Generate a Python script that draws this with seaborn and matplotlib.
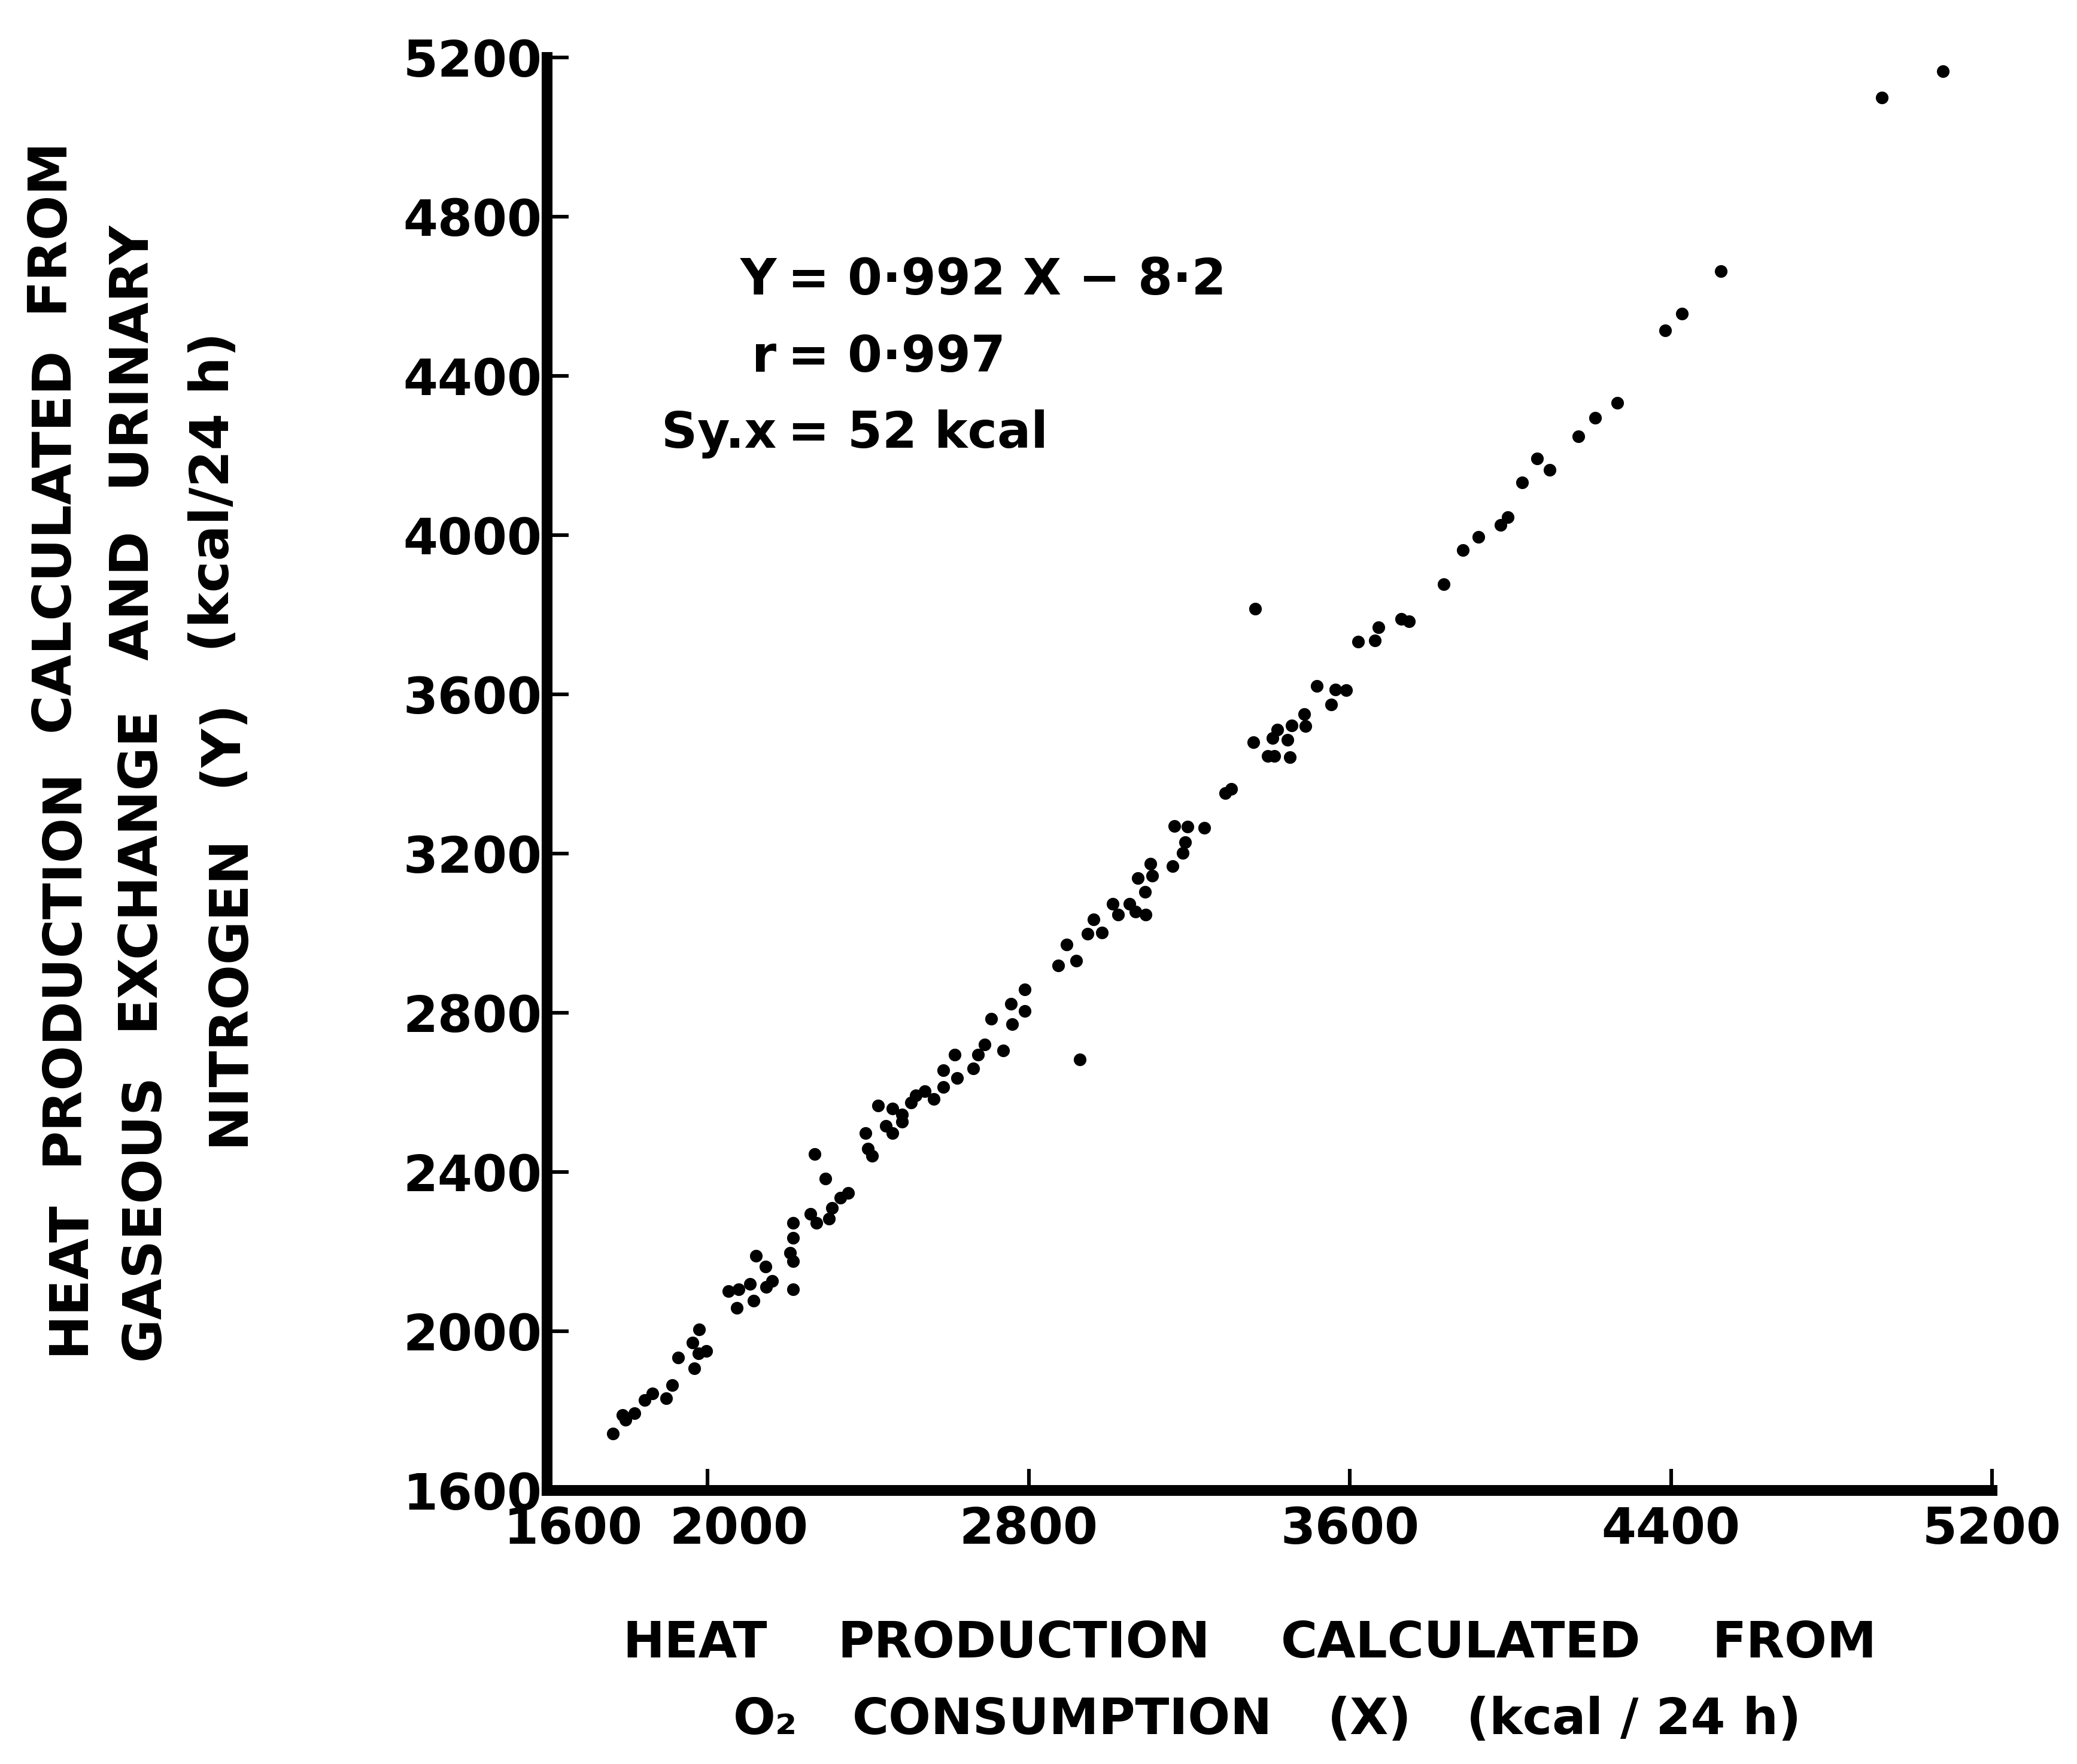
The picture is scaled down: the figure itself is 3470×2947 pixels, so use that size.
import matplotlib
matplotlib.use("Agg")
import matplotlib.pyplot as plt
import seaborn as sns
import pandas as pd
from matplotlib.transforms import ScaledTranslation

# ---------------- data ----------------
# heat production calculated from O2 consumption (X), kcal/24 h
o2_heat = [1764, 1788, 1796, 1818, 1843, 1863, 1897, 1912, 1927, 1962,
           1967, 1977, 1979, 1997, 2052, 2072, 2077, 2106, 2114, 2121,
           2144, 2146, 2161, 2206, 2213, 2213, 2213, 2213, 2256, 2266,
           2271, 2293, 2303, 2310, 2330, 2350, 2393, 2399, 2410, 2424,
           2444, 2461, 2461, 2484, 2484, 2507, 2518, 2541, 2564, 2587,
           2587, 2616, 2621, 2662, 2673, 2690, 2707, 2736, 2756, 2759,
           2790, 2790, 2873, 2894, 2919, 2927, 2946, 2962, 2983, 3009,
           3022, 3051, 3066, 3072, 3090, 3092, 3103, 3108, 3158, 3163,
           3184, 3190, 3195, 3238, 3289, 3305, 3360, 3364, 3395, 3407,
           3412, 3420, 3445, 3451, 3455, 3487, 3490, 3518, 3554, 3564,
           3591, 3621, 3663, 3671, 3728, 3748, 3834, 3881, 3920, 3975,
           3993, 4030, 4067, 4098, 4169, 4212, 4266, 4386, 4428, 4525,
           4925, 5077]
# heat production calculated from gaseous exchange and urinary nitrogen (Y)
gas_heat = [1743, 1789, 1778, 1794, 1827, 1843, 1832, 1864, 1934, 1972,
            1907, 1945, 2004, 1950, 2101, 2058, 2106, 2119, 2076, 2189,
            2162, 2111, 2127, 2197, 2106, 2176, 2235, 2272, 2294, 2445,
            2272, 2383, 2283, 2310, 2335, 2347, 2497, 2459, 2440, 2567,
            2516, 2497, 2560, 2526, 2545, 2574, 2593, 2603, 2583, 2613,
            2656, 2694, 2636, 2660, 2694, 2720, 2785, 2706, 2823, 2771,
            2804, 2859, 2919, 2971, 2931, 2682, 2998, 3034, 3001, 3074,
            3046, 3074, 3054, 3139, 3104, 3046, 3174, 3144, 3168, 3269,
            3202, 3229, 3267, 3264, 3352, 3362, 3480, 3815, 3445, 3490,
            3445, 3512, 3485, 3442, 3522, 3550, 3520, 3621, 3575, 3612,
            3610, 3733, 3735, 3768, 3790, 3783, 3877, 3962, 3995, 4026,
            4045, 4132, 4193, 4164, 4248, 4294, 4333, 4514, 4556, 4663,
            5099, 5165]

x_ticks = [1600, 2000, 2800, 3600, 4400, 5200]
y_ticks = [1600, 2000, 2400, 2800, 3200, 3600, 4000, 4400, 4800, 5200]

stat_names = ["Y", "r", "Sy.x"]
stat_values = ["0·992 X − 8·2", "0·997", "52 kcal"]

ylabel_lines = [["HEAT", "PRODUCTION", "CALCULATED", "FROM"],
                ["GASEOUS", "EXCHANGE", "AND", "URINARY"],
                ["NITROGEN", "(Y)", "(kcal/24 h)"]]
xlabel_lines = [["HEAT", "PRODUCTION", "CALCULATED", "FROM"],
                ["O₂", "CONSUMPTION", "(X)", "(kcal / 24 h)"]]

# ---------------- style ----------------
sns.set_style("ticks")
plt.rcParams["font.family"] = ["DejaVu Sans"]
plt.rcParams["font.weight"] = "bold"
plt.rcParams["text.color"] = "black"
plt.rcParams["axes.labelcolor"] = "black"
plt.rcParams["xtick.color"] = "black"
plt.rcParams["ytick.color"] = "black"

W, H = 3470, 2947
fig = plt.figure(figsize=(W / 200, H / 200), dpi=200)
ax = fig.add_axes([914 / W, 1 - 2490 / H, (3328 - 914) / W, (2490 - 96) / H])

df = pd.DataFrame({"o2": o2_heat, "gas": gas_heat})
sns.scatterplot(data=df, x="o2", y="gas", color="black", s=58, linewidth=0,
                ax=ax, legend=False, zorder=3)

ax.set_xlim(1600, 5200)
ax.set_ylim(1600, 5200)
ax.set_xticks(x_ticks)
ax.set_yticks(y_ticks)
ax.set_xticklabels([str(t) for t in x_ticks])
ax.set_yticklabels([str(t) for t in y_ticks])
ax.set_xlabel("")
ax.set_ylabel("")
for s in ["top", "right"]:
    ax.spines[s].set_visible(False)
for s in ["left", "bottom"]:
    ax.spines[s].set_linewidth(6.5)
    ax.spines[s].set_color("black")
    ax.spines[s].set_capstyle("projecting")
ax.tick_params(direction="in", length=13, width=2.2, labelsize=30,
               colors="black")
ax.tick_params(axis="x", pad=9)
ax.tick_params(axis="y", pad=3)
for lab in ax.get_xticklabels() + ax.get_yticklabels():
    lab.set_fontweight("bold")
    lab.set_color("black")
# crowded first labels are shifted right in the original
for lab, dx in zip(ax.get_xticklabels()[:2], [0.22, 0.26]):
    lab.set_transform(lab.get_transform() + ScaledTranslation(dx, 0, fig.dpi_scale_trans))

# ---------------- regression annotation ----------------
eq_base = [4605, 4410, 4220]
for name, val, yb in zip(stat_names, stat_values, eq_base):
    ax.text(2172, yb, name, ha="right", va="baseline", fontsize=30,
            fontweight="bold", color="black")
    ax.text(2251, yb, "=", ha="center", va="baseline", fontsize=30,
            fontweight="bold", color="black")
    ax.text(2348, yb, val, ha="left", va="baseline", fontsize=30,
            fontweight="bold", color="black")

# ---------------- justified axis labels ----------------
renderer = fig.canvas.get_renderer()


def vertical_line(words, y0, y1, xb, xt, size):
    texts = [fig.text(0, 0, w, rotation=90, ha="center", va="bottom",
                      fontsize=size, fontweight="bold", color="black")
             for w in words]
    lens = [t.get_window_extent(renderer).height / fig.bbox.height for t in texts]
    gap = (y1 - y0 - sum(lens)) / (len(words) - 1)
    pos = y0
    for t, L in zip(texts, lens):
        frac = (pos + L / 2 - y0) / (y1 - y0)
        t.set_position((xb + frac * (xt - xb), pos))
        pos += L + gap


def horizontal_line(words, x0, x1, yb, size):
    texts = [fig.text(0, yb, w, ha="left", va="baseline",
                      fontsize=size, fontweight="bold", color="black")
             for w in words]
    lens = [t.get_window_extent(renderer).width / fig.bbox.width for t in texts]
    gap = (x1 - x0 - sum(lens)) / (len(words) - 1)
    pos = x0
    for t, L in zip(texts, lens):
        t.set_x(pos)
        pos += L + gap


vertical_line(ylabel_lines[0], 1 - 2263 / H, 1 - 228 / H, 118 / W, 76 / W, 32)
vertical_line(ylabel_lines[1], 1 - 2272 / H, 1 - 367 / H, 245 / W, 212 / W, 32)
vertical_line(ylabel_lines[2], 1 - 1914 / H, 1 - 555 / H, 390 / W, 350 / W, 32)

horizontal_line(xlabel_lines[0], 1040 / W, 3135 / W, 1 - 2769 / H, 30)
horizontal_line(xlabel_lines[1], 1225 / W, 3009 / W, 1 - 2897 / H, 30)

fig.savefig("out.png", dpi=200, facecolor="white")
